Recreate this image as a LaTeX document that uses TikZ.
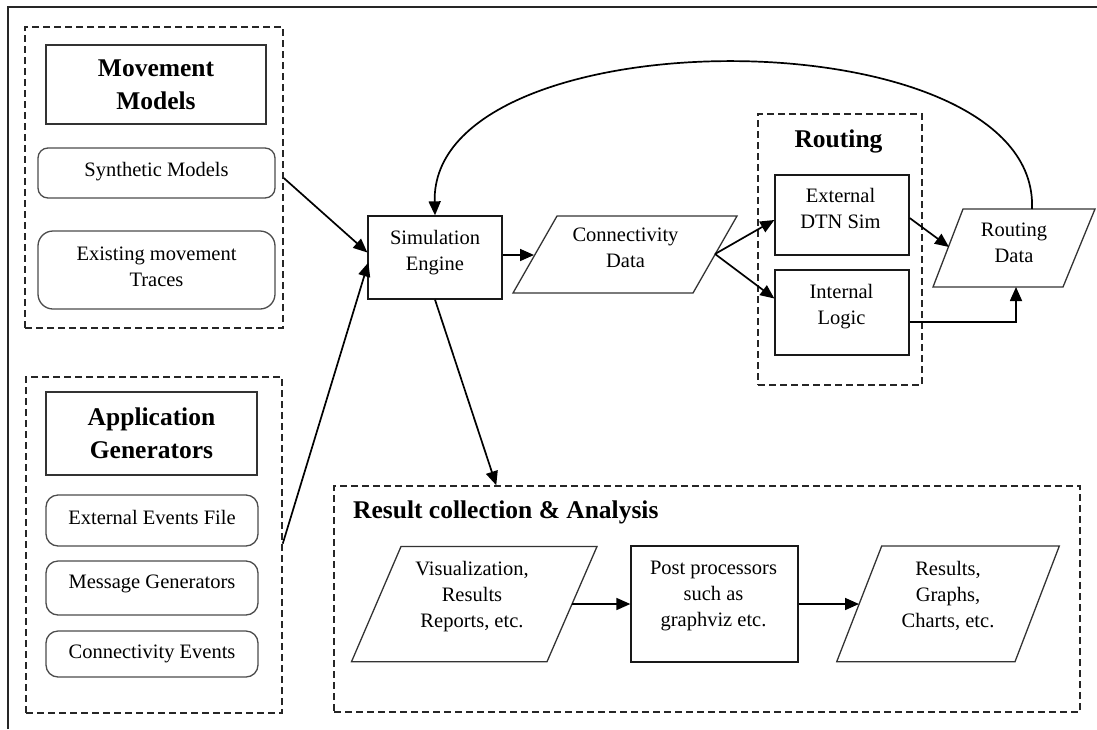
\documentclass[tikz,border=0pt]{standalone}
\usepackage{fontspec}
\setmainfont{Liberation Serif}
\usetikzlibrary{arrows.meta,calc}
\begin{document}
\begin{tikzpicture}[x=1pt,y=-1pt,
  box/.style={draw=black!90, line width=1.3pt, inner sep=0pt},
  rbox/.style={draw=black!70, line width=1.3pt, inner sep=0pt, rounded corners=12pt},
  tbox/.style={draw=black!80, line width=1.4pt, inner sep=0pt, align=center,
    font=\fontsize{25.5}{33}\selectfont\bfseries},
  grp/.style={draw=black!85, line width=1.5pt, dash pattern=on 7pt off 4pt, inner sep=0pt},
  para/.style={draw=black!80, line width=1.3pt, line join=miter},
  txt/.style={align=center, inner sep=0pt, font=\fontsize{20.5}{26}\selectfont},
  ttl/.style={inner sep=0pt, font=\fontsize{25.5}{33}\selectfont\bfseries},
  arr/.style={-{Triangle[length=14pt,width=12pt]}, line width=1.7pt},
]
\useasboundingbox (0,0) rectangle (1097,729);
% outer frame (top and left only)
\draw[line width=2pt, black!85] (8,729) -- (8,7) -- (1097,7);

% Movement models group
\node[grp, minimum width=258pt, minimum height=301pt] (mmgrp) at (154,177.5) {};
\node[tbox, minimum width=220pt, minimum height=79pt] (mmt) at (156,84.5) {Movement\\Models};
\node[rbox, minimum width=237pt, minimum height=50pt, rounded corners=10pt] (syn) at (156.5,173) {};
\node[txt] (syntxt) at (156.5,171.4) {Synthetic Models};
\node[rbox, minimum width=237pt, minimum height=78pt, rounded corners=15pt] (exi) at (156.5,270) {};
\node[txt] (exitxt) at (156.5,266.7) {Existing movement\\Traces};

% Application generators group
\node[grp, minimum width=256pt, minimum height=336pt] (aggrp) at (154,545) {};
\node[tbox, minimum width=211pt, minimum height=83pt] (agt) at (151.5,433.5) {Application\\Generators};
\node[rbox, minimum width=212pt, minimum height=51pt] (eef) at (152,520.5) {};
\node[txt] (eeftxt) at (152,517) {External Events File};
\node[rbox, minimum width=212pt, minimum height=54pt] (mg) at (152,588) {};
\node[txt] (mgtxt) at (152,584.4) {Message Generators};
\node[rbox, minimum width=212pt, minimum height=46pt] (ce) at (152,654) {};
\node[txt] (cetxt) at (152,654.4) {Connectivity Events};

% Simulation engine
\node[box, minimum width=134pt, minimum height=83pt] (se) at (435,257.5) {};
\node[txt] (setxt) at (435,252.4) {Simulation\\Engine};

% Connectivity data
\draw[para] (557,216) -- (737,216) -- (693,293) -- (513,293) -- cycle;
\node[txt] (cdtxt) at (625.5,248.2) {Connectivity\\Data};
\coordinate (cdL) at (534,255);
\coordinate (cdR) at (715,254);

% Routing group
\node[grp, minimum width=164pt, minimum height=271pt] (rtgrp) at (840,249.5) {};
\node[ttl, anchor=base] (rttl) at (838.5,147) {Routing};
\node[box, minimum width=134pt, minimum height=80pt] (ext) at (842,215) {};
\node[txt] (exttxt) at (840.5,208.7) {External\\DTN Sim};
\node[box, minimum width=134pt, minimum height=85pt] (intl) at (842,312.5) {};
\node[txt] (intltxt) at (841.5,307) {Internal\\Logic};

% Routing data
\draw[para] (963,209) -- (1095,209) -- (1063,287) -- (933,287) -- cycle;
\node[txt] (rdtxt) at (1014,242.7) {Routing\\Data};
\coordinate (rdL) at (949,247);
\coordinate (rdB) at (1016,287);
\coordinate (rdT) at (1032,209);

% Result collection group
\node[grp, minimum width=746pt, minimum height=226pt] (rcgrp) at (707,599) {};
\node[ttl, anchor=base west] (rcttl) at (353,518) {Result collection \& Analysis};
\draw[para] (401,546.5) -- (597,546.5) -- (547,661.7) -- (351.5,661.7) -- cycle;
\node[txt] (vistxt) at (472,596.4) {Visualization,\\Results\\Reports, etc.};
\coordinate (visR) at (572,604);
\node[box, minimum width=167pt, minimum height=116pt] (post) at (714.5,604) {};
\node[txt] (posttxt) at (713.5,596.4) {Post processors\\such as\\graphviz etc.};
\draw[para] (881.7,546) -- (1059.3,546) -- (1015,661.7) -- (836.7,661.7) -- cycle;
\node[txt] (restxt) at (948,595.8) {Results,\\Graphs,\\Charts, etc.};
\coordinate (resL) at (859,604);

% connectors
\draw[arr] ($(mmgrp.east |- syn.east)+(0,5)$) -- ($(se.west)+(0,-5)$);
\draw[arr] ($(aggrp.east |- eef.south)+(0,-3)$) -- ($(se.west)+(1,5)$);
\draw[arr] (se.east |- cdL) -- (cdL);
\draw[arr] (cdR) -- ($(ext.west)+(0,5)$);
\draw[arr] (cdR) -- ($(intl.west)+(0,-14)$);
\draw[arr] ($(ext.east)+(0,3)$) -- (rdL);
\draw[arr] ($(intl.east)+(0,9.5)$) -| (rdB);
\draw[arr] (rdT) .. controls (1040,13) and (430,13) .. (se.north);
\draw[arr] (se.south) -- ($(rcgrp.north west)+(163,0)$);
\draw[arr] (visR) -- (post.west);
\draw[arr] (post.east) -- (resL);
\end{tikzpicture}
\end{document}
